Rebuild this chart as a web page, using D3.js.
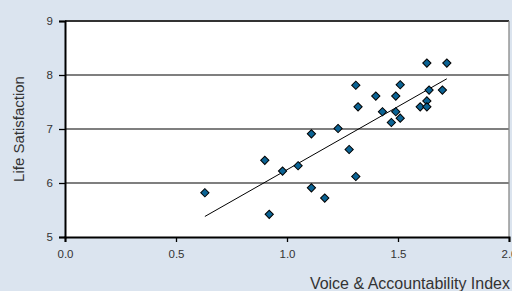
<!DOCTYPE html>
<head>
  <meta charset="utf-8">
  <script src="https://d3js.org/d3.v7.min.js"></script>
  <style>
    body {
      margin: 0;
      background-color: #dbe4ef;
      overflow: hidden;
    }
    text {
      font-family: "Liberation Sans", Arial, sans-serif;
      fill: #333;
    }
  </style>
</head>
<body>
<script>
// data
var voiceIndex = [0.63, 0.90, 0.92, 0.98, 1.05, 1.11, 1.11, 1.17, 1.23, 1.28, 1.31, 1.31,
                  1.32, 1.40, 1.43, 1.47, 1.49, 1.49, 1.51, 1.51, 1.60, 1.63, 1.63,
                  1.63, 1.64, 1.70, 1.72];
var lifeSat =    [5.82, 6.42, 5.42, 6.22, 6.32, 5.91, 6.91, 5.72, 7.01, 6.62, 6.12, 7.81,
                  7.41, 7.61, 7.32, 7.12, 7.32, 7.61, 7.20, 7.82, 7.41, 7.52, 8.22,
                  7.41, 7.72, 7.72, 8.22];
var trendX = [0.63, 1.72];
var trendY = [5.38, 7.93];
var xTicks = [0, 0.5, 1, 1.5, 2];
var yTicks = [5, 6, 7, 8, 9];

var width = 512, height = 291;
var margin = {top: 21, right: 3, bottom: 54, left: 65};

var svg = d3.select("body").append("svg")
    .attr("width", width)
    .attr("height", height);

var x = d3.scaleLinear().domain([0, 2]).range([margin.left, width - margin.right]);
var y = d3.scaleLinear().domain([5, 9]).range([height - margin.bottom, margin.top]);

// plot area
svg.append("rect")
    .attr("x", x(0)).attr("y", y(9))
    .attr("width", x(2) - x(0)).attr("height", y(5) - y(9))
    .attr("fill", "#fff");

// gridlines
svg.append("g").selectAll("line")
    .data(yTicks.slice(1, 4))
    .enter().append("line")
    .attr("x1", x(0)).attr("x2", x(2))
    .attr("y1", d => y(d)).attr("y2", d => y(d))
    .attr("stroke", "#555").attr("stroke-width", 1.3);

// borders
svg.append("line").attr("x1", x(0)).attr("x2", x(2)).attr("y1", y(9)).attr("y2", y(9))
    .attr("stroke", "#333").attr("stroke-width", 2);
svg.append("line").attr("x1", x(2)).attr("x2", x(2)).attr("y1", y(9)).attr("y2", y(5))
    .attr("stroke", "#888").attr("stroke-width", 1.3);

// axes
var xAxis = svg.append("g")
    .attr("transform", "translate(0," + y(5) + ")")
    .call(d3.axisBottom(x).tickValues(xTicks).tickFormat(d3.format(".1f")).tickSize(5).tickPadding(8));
var yAxis = svg.append("g")
    .attr("transform", "translate(" + x(0) + ",0)")
    .call(d3.axisLeft(y).tickValues(yTicks).tickFormat(d3.format("d")).tickSize(6).tickPadding(6));

[xAxis, yAxis].forEach(function(a) {
  a.select(".domain").attr("stroke", "#000").attr("stroke-width", 2);
  a.selectAll(".tick line").attr("stroke", "#000").attr("stroke-width", 1.3);
  a.selectAll(".tick text").attr("fill", "#333")
    .style("font-family", '"Liberation Sans", Arial, sans-serif').style("font-size", "11.5px");
});

// trend line
svg.append("line")
    .attr("x1", x(trendX[0])).attr("y1", y(trendY[0]))
    .attr("x2", x(trendX[1])).attr("y2", y(trendY[1]))
    .attr("stroke", "#000").attr("stroke-width", 1);

// diamonds
var diamond = d3.symbol().type(d3.symbolSquare).size(34);
svg.append("g").selectAll("path")
    .data(voiceIndex)
    .enter().append("path")
    .attr("d", diamond)
    .attr("transform", (d, i) => "translate(" + x(d) + "," + y(lifeSat[i]) + ") rotate(45)")
    .attr("fill", "#0b6394")
    .attr("stroke", "#000")
    .attr("stroke-width", 1);

// axis titles
svg.append("text")
    .attr("transform", "translate(24," + (y(7)) + ") rotate(-90)")
    .attr("text-anchor", "middle")
    .style("font-size", "15px")
    .text("Life Satisfaction");

svg.append("text")
    .attr("x", 510).attr("y", 289)
    .attr("text-anchor", "end")
    .style("font-size", "16px")
    .text("Voice & Accountability Index");
</script>
</body>
